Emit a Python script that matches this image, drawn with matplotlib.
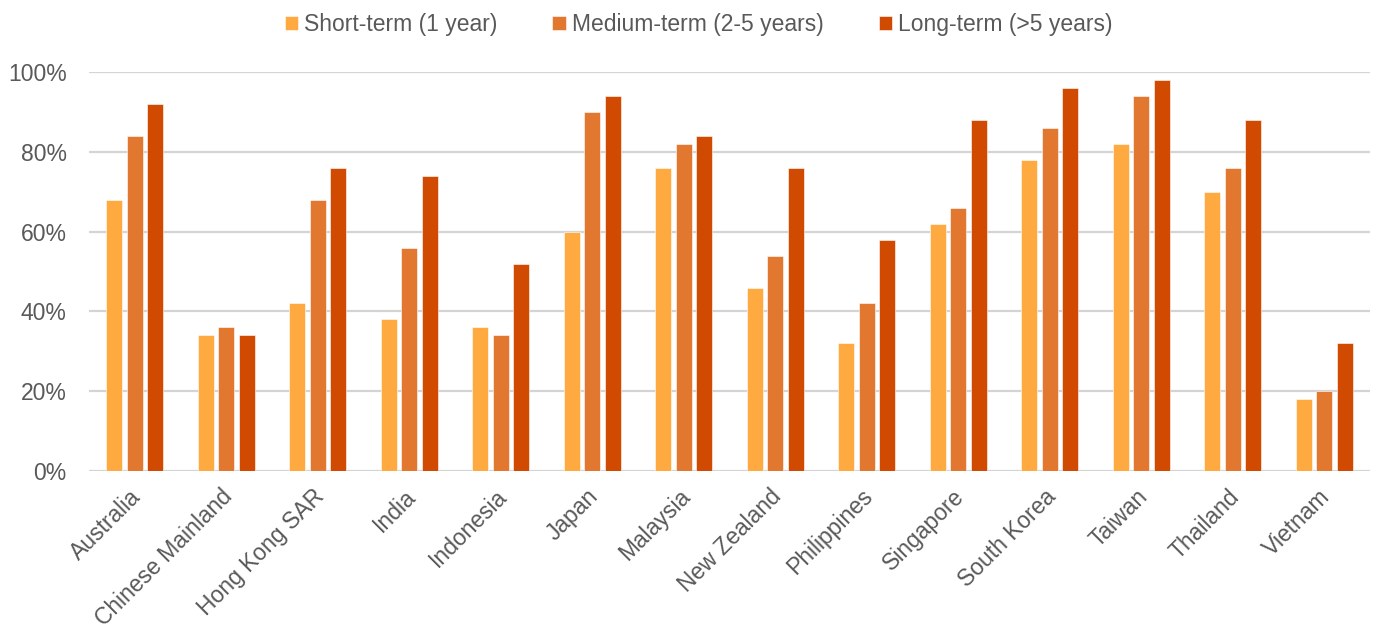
import numpy as np
import matplotlib.pyplot as plt
from matplotlib.ticker import PercentFormatter

plt.rcParams['font.family'] = ['Liberation Sans', 'DejaVu Sans']

markets = ["Australia", "Chinese Mainland", "Hong Kong SAR", "India", "Indonesia",
           "Japan", "Malaysia", "New Zealand", "Philippines", "Singapore",
           "South Korea", "Taiwan", "Thailand", "Vietnam"]
short_term = [68, 34, 42, 38, 36, 60, 76, 46, 32, 62, 78, 82, 70, 18]
medium_term = [84, 36, 68, 56, 34, 90, 82, 54, 42, 66, 86, 94, 76, 20]
long_term = [92, 34, 76, 74, 52, 94, 84, 76, 58, 88, 96, 98, 88, 32]

series = [
    ("Short-term (1 year)", short_term, "#FFAA40"),
    ("Medium-term (2-5 years)", medium_term, "#E27830"),
    ("Long-term (>5 years)", long_term, "#D14A02"),
]

text_color = "#595959"
fs = 16.5

fig = plt.figure(figsize=(13.78, 6.34), dpi=100)
ax = fig.add_axes([0.0646, 0.257, 0.9296, 0.6294])

x = np.arange(len(markets))
width = 0.175
step = 0.224
for i, (label, vals, color) in enumerate(series):
    ax.bar(x + (i - 1) * step, vals, width=width, color=color, label=label,
           edgecolor="white", linewidth=0.4, zorder=3)

ax.set_xlim(-0.5, len(markets) - 0.5)
ax.set_ylim(0, 100)
ax.set_yticks(range(0, 101, 20))
ax.yaxis.set_major_formatter(PercentFormatter(decimals=0))
ax.grid(axis="y", color="#D4D4D4", linewidth=1.6, zorder=0)
for side in ["top", "right", "left", "bottom"]:
    ax.spines[side].set_visible(False)
ax.tick_params(axis="both", length=0, labelsize=fs, colors=text_color)
ax.tick_params(axis="y", pad=16)

# category labels sit slanted under each group
ax.set_xticks(x - 0.06)
ax.set_xticklabels(markets, rotation=45, ha="right", rotation_mode="anchor")
ax.tick_params(axis="x", pad=10)

handles, labels = ax.get_legend_handles_labels()
fig.legend(handles, labels, loc="upper center", bbox_to_anchor=(0.507, 1.012),
           ncol=3, frameon=False, fontsize=fs, labelcolor=text_color,
           handlelength=0.6, handleheight=0.6, handletextpad=0.25,
           columnspacing=2.4)

fig.savefig("out.png", dpi=100)
